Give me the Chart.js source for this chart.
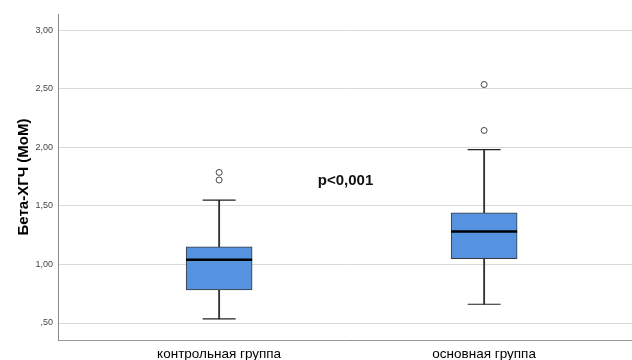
<!DOCTYPE html>
<html>
<head>
<meta charset="utf-8">
<script src="https://cdn.jsdelivr.net/npm/chart.js@4"></script>
<style>
html,body{margin:0;padding:0;background:#fff;}
#wrap{width:632px;height:360px;position:relative;}
</style>
</head>
<body>
<div id="wrap"><canvas id="c" width="632" height="360"></canvas></div>
<script>
const categories = ['контрольная группа', 'основная группа'];
const positions = [1, 2];
const whiskerLow = [0.535, 0.66];
const q1 = [0.782, 1.05];
const median = [1.04, 1.28];
const q3 = [1.15, 1.44];
const whiskerHigh = [1.548, 1.98];
const outliersControl = [1.72, 1.785];
const outliersMain = [2.143, 2.535];
const yTicks = [0.5, 1.0, 1.5, 2.0, 2.5, 3.0];
const yTickLabels = [',50', '1,00', '1,50', '2,00', '2,50', '3,00'];
const yTitle = 'Бета-ХГЧ (МоМ)';
const pText = 'p<0,001';
const pPos = {x: 1.477, y: 1.68};

const FONT = '"Liberation Sans", Arial, sans-serif';

const boxData = positions.map((p, i) => ({x: p, y: [q1[i], q3[i]]}));
const upperWhisker = positions.map((p, i) => ({x: p, y: [q3[i], whiskerHigh[i]]}));
const lowerWhisker = positions.map((p, i) => ({x: p, y: [whiskerLow[i], q1[i]]}));
const medianPts = positions.map((p, i) => ({x: p, y: median[i]}));
const capPts = positions.flatMap((p, i) => [{x: p, y: whiskerLow[i]}, {x: p, y: whiskerHigh[i]}]);
const outlierPts = outliersControl.map(v => ({x: positions[0], y: v}))
  .concat(outliersMain.map(v => ({x: positions[1], y: v})));

const pPlugin = {
  id: 'pText',
  afterDraw(chart) {
    const {ctx, scales} = chart;
    ctx.save();
    ctx.font = 'bold 15px ' + FONT;
    ctx.fillStyle = '#111';
    ctx.textAlign = 'center';
    ctx.textBaseline = 'alphabetic';
    ctx.fillText(pText, scales.x.getPixelForValue(pPos.x), scales.y.getPixelForValue(pPos.y));
    ctx.restore();
  }
};

new Chart(document.getElementById('c'), {
  type: 'bar',
  data: {
    datasets: [
      {type: 'scatter', data: outlierPts, pointStyle: 'circle', pointRadius: 3,
       pointBackgroundColor: '#fff', pointBorderColor: '#444', pointBorderWidth: 1, order: 1},
      {type: 'scatter', data: medianPts, pointStyle: 'line', pointRadius: 33,
       pointBorderColor: '#000', pointBorderWidth: 2.5, order: 2},
      {type: 'scatter', data: capPts, pointStyle: 'line', pointRadius: 16.5,
       pointBorderColor: '#222', pointBorderWidth: 1.2, order: 3},
      {type: 'bar', data: boxData, backgroundColor: '#5593E1', borderColor: '#3a3a3a',
       borderWidth: 1, borderSkipped: false, barThickness: 66, grouped: false, order: 4},
      {type: 'bar', data: upperWhisker, backgroundColor: '#333', borderWidth: 0,
       barThickness: 1.2, grouped: false, order: 5},
      {type: 'bar', data: lowerWhisker, backgroundColor: '#333', borderWidth: 0,
       barThickness: 1.2, grouped: false, order: 6}
    ]
  },
  options: {
    responsive: false,
    animation: false,
    events: [],
    layout: {autoPadding: false, padding: {top: 14, left: 0, right: 0, bottom: 0}},
    plugins: {legend: {display: false}, tooltip: {enabled: false}},
    scales: {
      x: {
        type: 'linear',
        offset: false,
        min: 0.392, max: 2.558,
        grid: {display: false, drawTicks: false, offset: false},
        border: {display: true, color: '#9a9a9a', width: 1},
        ticks: {
          padding: 6,
          color: '#000',
          font: {family: FONT, size: 13.5},
          callback: (v) => { const i = positions.indexOf(v); return i >= 0 ? categories[i] : ''; }
        },
        afterBuildTicks: (s) => { s.ticks = positions.map(v => ({value: v})); },
        afterFit: (s) => { s.height = 20; }
      },
      y: {
        min: 0.355, max: 3.137,
        grid: {color: '#d9d9d9', lineWidth: 1, drawTicks: false},
        border: {display: true, color: '#8a8a8a', width: 1},
        ticks: {
          padding: 5,
          color: '#444',
          font: {family: FONT, size: 9},
          callback: (v) => { const i = yTicks.findIndex(t => Math.abs(t - v) < 1e-9); return i >= 0 ? yTickLabels[i] : ''; }
        },
        afterBuildTicks: (s) => { s.ticks = yTicks.map(v => ({value: v})); },
        afterFit: (s) => { s.width = 58; },
        title: {
          display: true,
          text: yTitle,
          color: '#000',
          font: {family: FONT, size: 15, weight: 'bold'},
          padding: {top: 15, bottom: 0}
        }
      }
    }
  },
  plugins: [pPlugin]
});
</script>
</body>
</html>
